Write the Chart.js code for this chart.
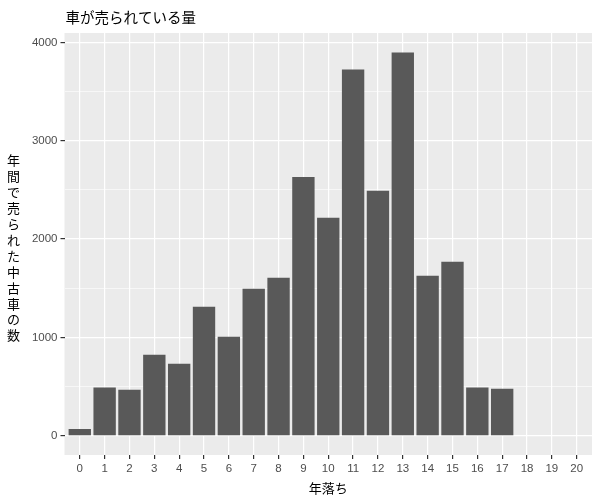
<!DOCTYPE html>
<html><head><meta charset="utf-8">
<script src="https://cdn.jsdelivr.net/npm/chart.js@4/dist/chart.umd.min.js"></script>
<style>html,body{margin:0;padding:0;background:#fff}#wrap{width:600px;height:500px}canvas{display:block}</style>
</head><body>
<div id="wrap"><canvas id="c" width="600" height="500"></canvas></div>
<script>
const years = [0,1,2,3,4,5,6,7,8,9,10,11,12,13,14,15,16,17];
const counts = [70,490,468,824,732,1312,1007,1495,1607,2632,2218,3723,2492,3896,1628,1770,491,478];
const xTicks = [0,1,2,3,4,5,6,7,8,9,10,11,12,13,14,15,16,17,18,19,20];
const yTicks = [0,500,1000,1500,2000,2500,3000,3500,4000];
const yLabelTicks = [0,1000,2000,3000,4000];
const chartTitle = '車が売られている量';
const xTitle = '年落ち';
const yTitle = '年間で売られた中古車の数';

const JP = '"Noto Sans CJK JP", "Noto Sans", sans-serif';
const NUM = '"Liberation Sans", Arial, sans-serif';

const decor = {
  id: 'decor',
  beforeDraw(chart) {
    const {ctx, chartArea: a} = chart;
    ctx.save();
    ctx.fillStyle = '#fff';
    ctx.fillRect(0, 0, chart.width, chart.height);
    ctx.fillStyle = '#EBEBEB';
    ctx.fillRect(a.left, a.top, a.right - a.left, a.bottom - a.top);
    ctx.restore();
  },
  afterDraw(chart) {
    const {ctx, chartArea: a} = chart;
    ctx.save();
    ctx.fillStyle = '#000';
    ctx.textBaseline = 'middle';
    ctx.font = '14.5px ' + JP;
    ctx.textAlign = 'left';
    ctx.fillText(chartTitle, a.left + 1, 17);
    ctx.font = '13px ' + JP;
    ctx.textAlign = 'center';
    ctx.fillText(xTitle, (a.left + a.right) / 2, 488);
    const chars = Array.from(yTitle);
    const step = 15.9;
    const cy = (a.top + a.bottom) / 2 + 4;
    const y0 = cy - step * (chars.length - 1) / 2;
    chars.forEach((ch, i) => ctx.fillText(ch, 13.5, y0 + i * step));
    ctx.restore();
  }
};

new Chart(document.getElementById('c'), {
  type: 'bar',
  data: {
    datasets: [{
      data: years.map((x, i) => ({x: x, y: counts[i]})),
      backgroundColor: '#595959',
      borderWidth: 0,
      barPercentage: 0.9,
      categoryPercentage: 1.0
    }]
  },
  options: {
    responsive: false,
    animation: false,
    devicePixelRatio: 1,
    layout: {padding: {top: 33, right: 8, left: 0, bottom: 0}},
    plugins: {legend: {display: false}, tooltip: {enabled: false}, title: {display: false}},
    scales: {
      x: {
        type: 'linear',
        offset: false,
        min: -0.615,
        max: 20.615,
        afterBuildTicks(s) { s.ticks = xTicks.map(v => ({value: v})); },
        afterFit(s) { s.height = 45; },
        border: {display: false},
        grid: {offset: false, color: '#FFFFFF', lineWidth: 1.2, tickColor: '#333333', tickLength: 4, drawTicks: true},
        ticks: {autoSkip: false, maxRotation: 0, padding: 3, color: '#4D4D4D', font: {family: NUM, size: 11.5},
          callback: v => String(v)}
      },
      y: {
        type: 'linear',
        min: -195,
        max: 4095,
        afterBuildTicks(s) { s.ticks = yTicks.map(v => ({value: v})); },
        afterFit(s) { s.width = 64.5; },
        border: {display: false},
        grid: {
          color: '#FFFFFF',
          lineWidth: c => (c.tick && c.tick.value % 1000 === 0) ? 1.2 : 0.6,
          tickColor: c => (c.tick && c.tick.value % 1000 === 0) ? '#333333' : 'rgba(0,0,0,0)',
          tickLength: 4
        },
        ticks: {autoSkip: false, padding: 3, color: '#4D4D4D', font: {family: NUM, size: 11.5},
          callback: v => yLabelTicks.includes(v) ? String(v) : ''}
      }
    }
  },
  plugins: [decor]
});
</script>
</body></html>
